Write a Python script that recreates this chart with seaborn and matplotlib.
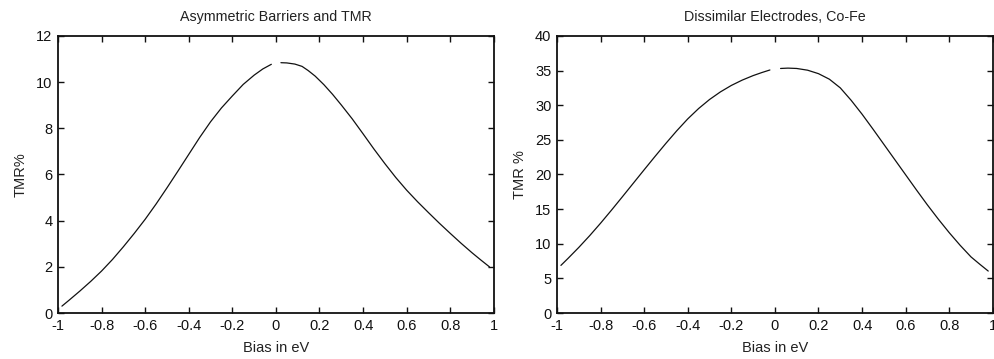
import numpy as np
import pandas as pd
import matplotlib
matplotlib.use("Agg")
import matplotlib.pyplot as plt
import seaborn as sns

# left panel: asymmetric barriers (two branches, gap at zero bias)
asym_neg_bias = [-0.982, -0.95, -0.9, -0.85, -0.8, -0.75, -0.7, -0.65, -0.6, -0.55, -0.5,
                 -0.45, -0.4, -0.35, -0.3, -0.25, -0.2, -0.15, -0.1, -0.06, -0.021]
asym_neg_tmr = [0.30, 0.55, 0.95, 1.37, 1.82, 2.32, 2.87, 3.45, 4.06, 4.72, 5.42,
                6.14, 6.87, 7.6, 8.28, 8.88, 9.4, 9.9, 10.3, 10.57, 10.77]
asym_pos_bias = [0.023, 0.05, 0.087, 0.12, 0.148, 0.18, 0.22, 0.26, 0.3, 0.35, 0.4,
                 0.45, 0.5, 0.55, 0.6, 0.65, 0.7, 0.75, 0.8, 0.85, 0.9, 0.94, 0.98]
asym_pos_tmr = [10.84, 10.83, 10.78, 10.68, 10.5, 10.26, 9.89, 9.47, 9.01, 8.41, 7.76,
                7.1, 6.47, 5.87, 5.32, 4.82, 4.35, 3.89, 3.45, 3.02, 2.61, 2.3, 2.0]

# right panel: dissimilar electrodes Co-Fe
cofe_neg_bias = [-0.982, -0.95, -0.9, -0.85, -0.8, -0.75, -0.7, -0.65, -0.6, -0.55, -0.5,
                 -0.45, -0.4, -0.35, -0.3, -0.25, -0.2, -0.15, -0.1, -0.06, -0.023]
cofe_neg_tmr = [6.88, 7.87, 9.47, 11.17, 12.97, 14.85, 16.78, 18.73, 20.68, 22.61, 24.5,
                26.32, 28.02, 29.52, 30.82, 31.92, 32.85, 33.62, 34.27, 34.71, 35.08]
cofe_pos_bias = [0.026, 0.06, 0.1, 0.15, 0.2, 0.25, 0.3, 0.35, 0.4, 0.45, 0.5,
                 0.55, 0.6, 0.65, 0.7, 0.75, 0.8, 0.85, 0.9, 0.94, 0.979]
cofe_pos_tmr = [35.3, 35.35, 35.3, 35.05, 34.55, 33.75, 32.5, 30.7, 28.7, 26.55, 24.35,
                22.15, 19.95, 17.75, 15.6, 13.55, 11.6, 9.78, 8.1, 7.05, 6.06]

xticks = [-1, -0.8, -0.6, -0.4, -0.2, 0, 0.2, 0.4, 0.6, 0.8, 1]
xtick_labels = ["-1", "-0.8", "-0.6", "-0.4", "-0.2", "0", "0.2", "0.4", "0.6", "0.8", "1"]


def make_df(nb, nt, pb, pt):
    return pd.DataFrame({
        "bias": nb + pb,
        "tmr": nt + pt,
        "branch": ["neg"] * len(nb) + ["pos"] * len(pb),
    })


sns.set_style("ticks")
plt.rcParams['font.family'] = ['Liberation Sans', 'DejaVu Sans']

fig = plt.figure(figsize=(9.95, 3.59), dpi=100)
ax1 = fig.add_axes([0.0583, 0.128, 0.438, 0.772])
ax2 = fig.add_axes([0.5598, 0.128, 0.438, 0.772])

panels = [
    (ax1, make_df(asym_neg_bias, asym_neg_tmr, asym_pos_bias, asym_pos_tmr),
     "Asymmetric Barriers and TMR", "TMR%", (0, 12), [0, 2, 4, 6, 8, 10, 12]),
    (ax2, make_df(cofe_neg_bias, cofe_neg_tmr, cofe_pos_bias, cofe_pos_tmr),
     "Dissimilar Electrodes, Co-Fe", "TMR %", (0, 40), [0, 5, 10, 15, 20, 25, 30, 35, 40]),
]

for ax, df, title, ylab, ylim, yticks in panels:
    sns.lineplot(data=df, x="bias", y="tmr", units="branch", estimator=None,
                 color="#111111", linewidth=0.9, ax=ax)
    ax.set_xlim(-1, 1)
    ax.set_ylim(*ylim)
    ax.set_xticks(xticks)
    ax.set_xticklabels(xtick_labels)
    ax.set_yticks(yticks)
    ax.set_title(title, fontsize=10.3, pad=11, color="#222222")
    ax.set_xlabel("Bias in eV", fontsize=10.5, labelpad=6, color="#222222")
    ax.set_ylabel(ylab, fontsize=10.5, labelpad=6, color="#222222")
    ax.tick_params(direction="in", top=True, right=True, length=4, width=1,
                   labelsize=10.5, colors="#111111", pad=4)
    for s in ax.spines.values():
        s.set_linewidth(1.3)
        s.set_color("#111111")

fig.savefig("out.png", dpi=100)
